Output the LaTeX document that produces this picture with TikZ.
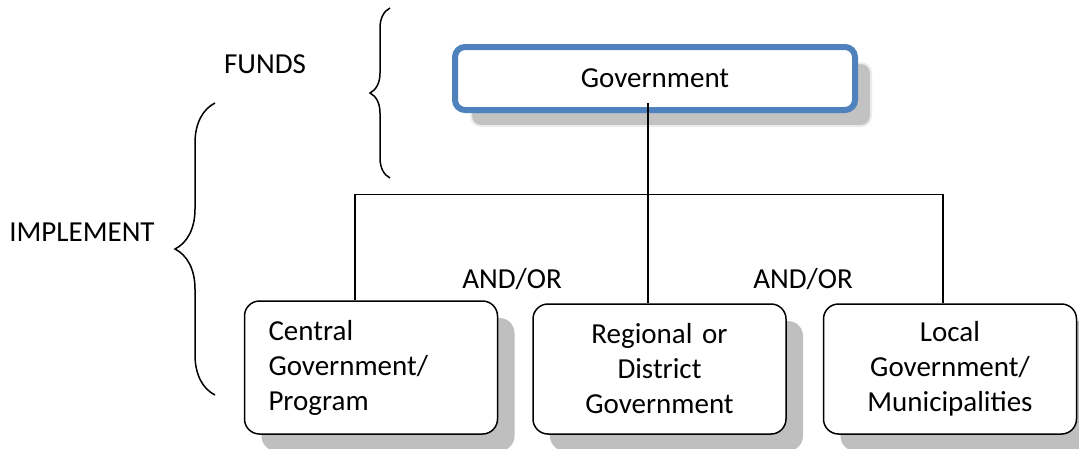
\documentclass[tikz,border=0pt]{standalone}
\usepackage{fontspec}
\setmainfont{Carlito}
\usetikzlibrary{shadows,decorations.pathreplacing}
\definecolor{govblue}{RGB}{79,129,189}

\begin{document}
\begin{tikzpicture}[x=1pt,y=-1pt,line width=1.5pt,
  every node/.style={font=\fontsize{29}{35}\selectfont},
  topbox/.style={draw=govblue,line width=6pt,rounded corners=10pt,fill=white,
    minimum width=400pt,minimum height=63pt,
    general shadow={fill=black!24,draw=black!8,line width=2pt,shadow xshift=16pt,shadow yshift=-16pt}},
  unit/.style={draw,line width=1.5pt,rounded corners=15pt,fill=white,
    minimum width=253pt,minimum height=130pt,text width=205pt,
    general shadow={fill=black!25,draw=none,shadow xshift=17pt,shadow yshift=-17pt}},
  brace/.style={decorate,decoration={brace,amplitude=#1}}]
\useasboundingbox (0,0) rectangle (1079,448);
\node[topbox] (gov) at (655,78.5) {Government};
\node[unit,align=left,minimum height=133pt] (cen) at (371,367.5) {Central\\Government/\\Program};
\node[unit,align=center] (reg) at (659.5,369) {Regional or\\District\\Government};
\node[unit,align=center] (loc) at (950,369) {Local\\Government/\\Municipalities};
\node (funds) at (265,64) {FUNDS};
\node (impl) at (82,232) {IMPLEMENT};
\node (andor1) at (512,279) {AND/OR};
\node (andor2) at (803,279) {AND/OR};
% braces
\coordinate (ftop) at (390,8);
\coordinate (fbot) at (390,178);
\coordinate (itop) at (215,103);
\coordinate (ibot) at (215,395);
\draw[brace=20pt] (fbot) -- (ftop);
\draw[brace=40pt] (ibot) -- (itop);
% links
\coordinate (gdrop) at ([xshift=-7pt]gov.south);
\draw ([yshift=10pt]gdrop) -- (gdrop |- reg.north);
\draw ([xshift=-16pt]cen.north) -- ++(0,-106) -| ([xshift=-7pt]loc.north);
\end{tikzpicture}
\end{document}
